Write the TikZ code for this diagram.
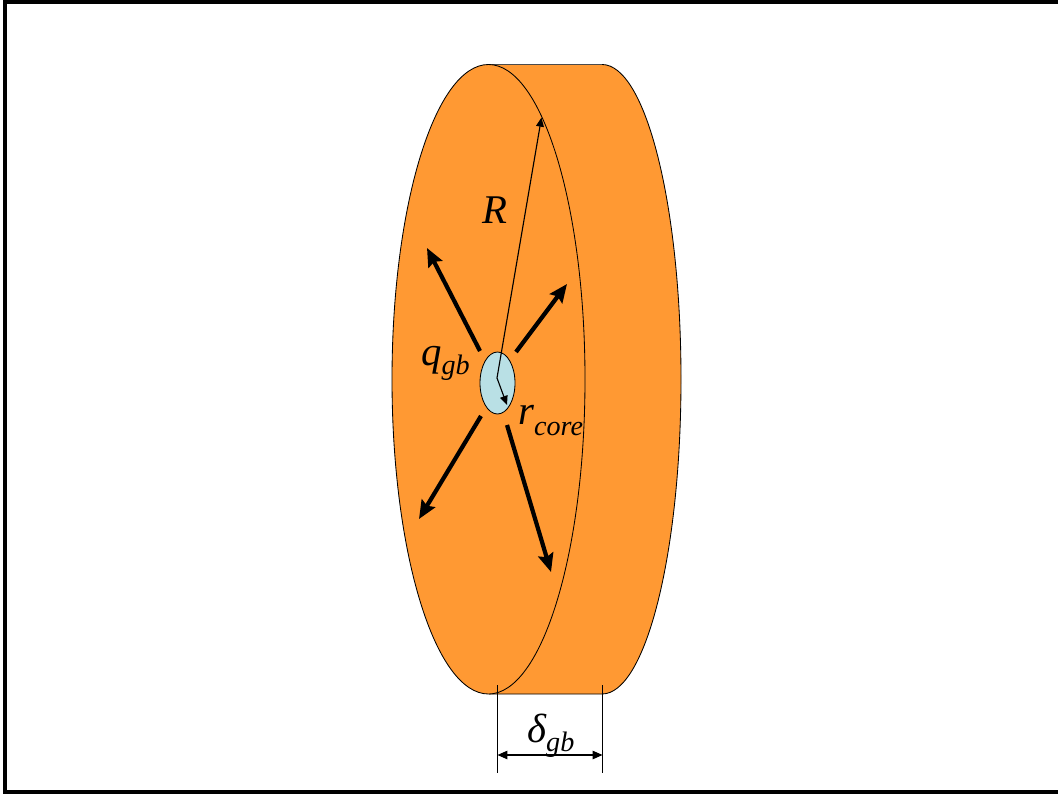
\documentclass[tikz,border=0pt]{standalone}
\usepackage{fontspec}
\setmainfont{Liberation Serif}
\usetikzlibrary{arrows.meta,shapes.geometric}
\definecolor{diskcol}{RGB}{255,153,51}
\definecolor{corecol}{RGB}{185,224,229}
\newcommand{\lowsub}[2]{\raisebox{-#1}{\fontsize{20}{20}\selectfont #2}}
\begin{document}
\begin{tikzpicture}[
    x=0.025cm, y=-0.025cm,
    heat/.style={-{Stealth[length=13pt,width=11pt,inset=2pt]}, line width=3pt},
    radius/.style={-{Triangle[length=6.5pt,width=5.5pt]}, line width=0.8pt},
    dim/.style={{Triangle[length=7pt,width=6pt]}-{Triangle[length=7pt,width=6pt]}, line width=0.8pt},
    tick/.style={line width=0.6pt},
    label/.style={font=\fontsize{29}{29}\selectfont\itshape, inner sep=0pt, anchor=base west},
]
\useasboundingbox (0,0) rectangle (1058,794);
\draw[line width=3pt] (1058,2) -- (5,2) -- (5,792) -- (1058,792);
% disk body
\fill[diskcol] (489,64.5) -- (602,64.5) arc[start angle=-90, end angle=90, x radius=79, y radius=314.75] -- (489,694) -- cycle;
\draw[line width=0.6pt] (602,64.5) arc[start angle=-90, end angle=90, x radius=79, y radius=314.75] -- (489,694);
\draw[black!70, line width=0.6pt] (489,64.5) -- (602,64.5);
\draw[fill=diskcol, line width=0.6pt] (488.5,379.25) ellipse [x radius=96.5, y radius=314.75];
% core
\node[ellipse, draw, fill=corecol, line width=0.6pt, minimum width=35*0.025cm, minimum height=62*0.025cm, inner sep=0pt] (core) at (497.5,383) {};
\coordinate (mid) at (497,378);
\coordinate (rim) at (541.5,117.5);
\coordinate (rend) at (507,405);
\draw[radius] (mid) -- (rim);
\draw[radius] (mid) -- (rend);
% heat flow
\coordinate (a1) at (480,351); \coordinate (a2) at (427,248);
\coordinate (b1) at (516,352); \coordinate (b2) at (567,284);
\coordinate (c1) at (481,416); \coordinate (c2) at (419,519);
\coordinate (d1) at (507,425); \coordinate (d2) at (551,572);
\draw[heat] (a1) -- (a2);
\draw[heat] (b1) -- (b2);
\draw[heat] (c1) -- (c2);
\draw[heat] (d1) -- (d2);
% labels
\node[label] (lblR) at (482,224) {R};
\node[label] (lblq) at (421,365) {q\lowsub{7pt}{gb}};
\node[label] (lblr) at (518,424) {r\lowsub{8.5pt}{core}};
\node[label] (lbld) at (527,742) {δ\lowsub{6.5pt}{gb}};
% width
\coordinate (t1) at (497.5,685); \coordinate (t2) at (497.5,773);
\coordinate (u1) at (602.5,685); \coordinate (u2) at (602.5,773);
\coordinate (v1) at (497.5,755); \coordinate (v2) at (602.5,755);
\draw[tick] (t1) -- (t2);
\draw[tick] (u1) -- (u2);
\draw[dim] (v1) -- (v2);
\end{tikzpicture}
\end{document}
